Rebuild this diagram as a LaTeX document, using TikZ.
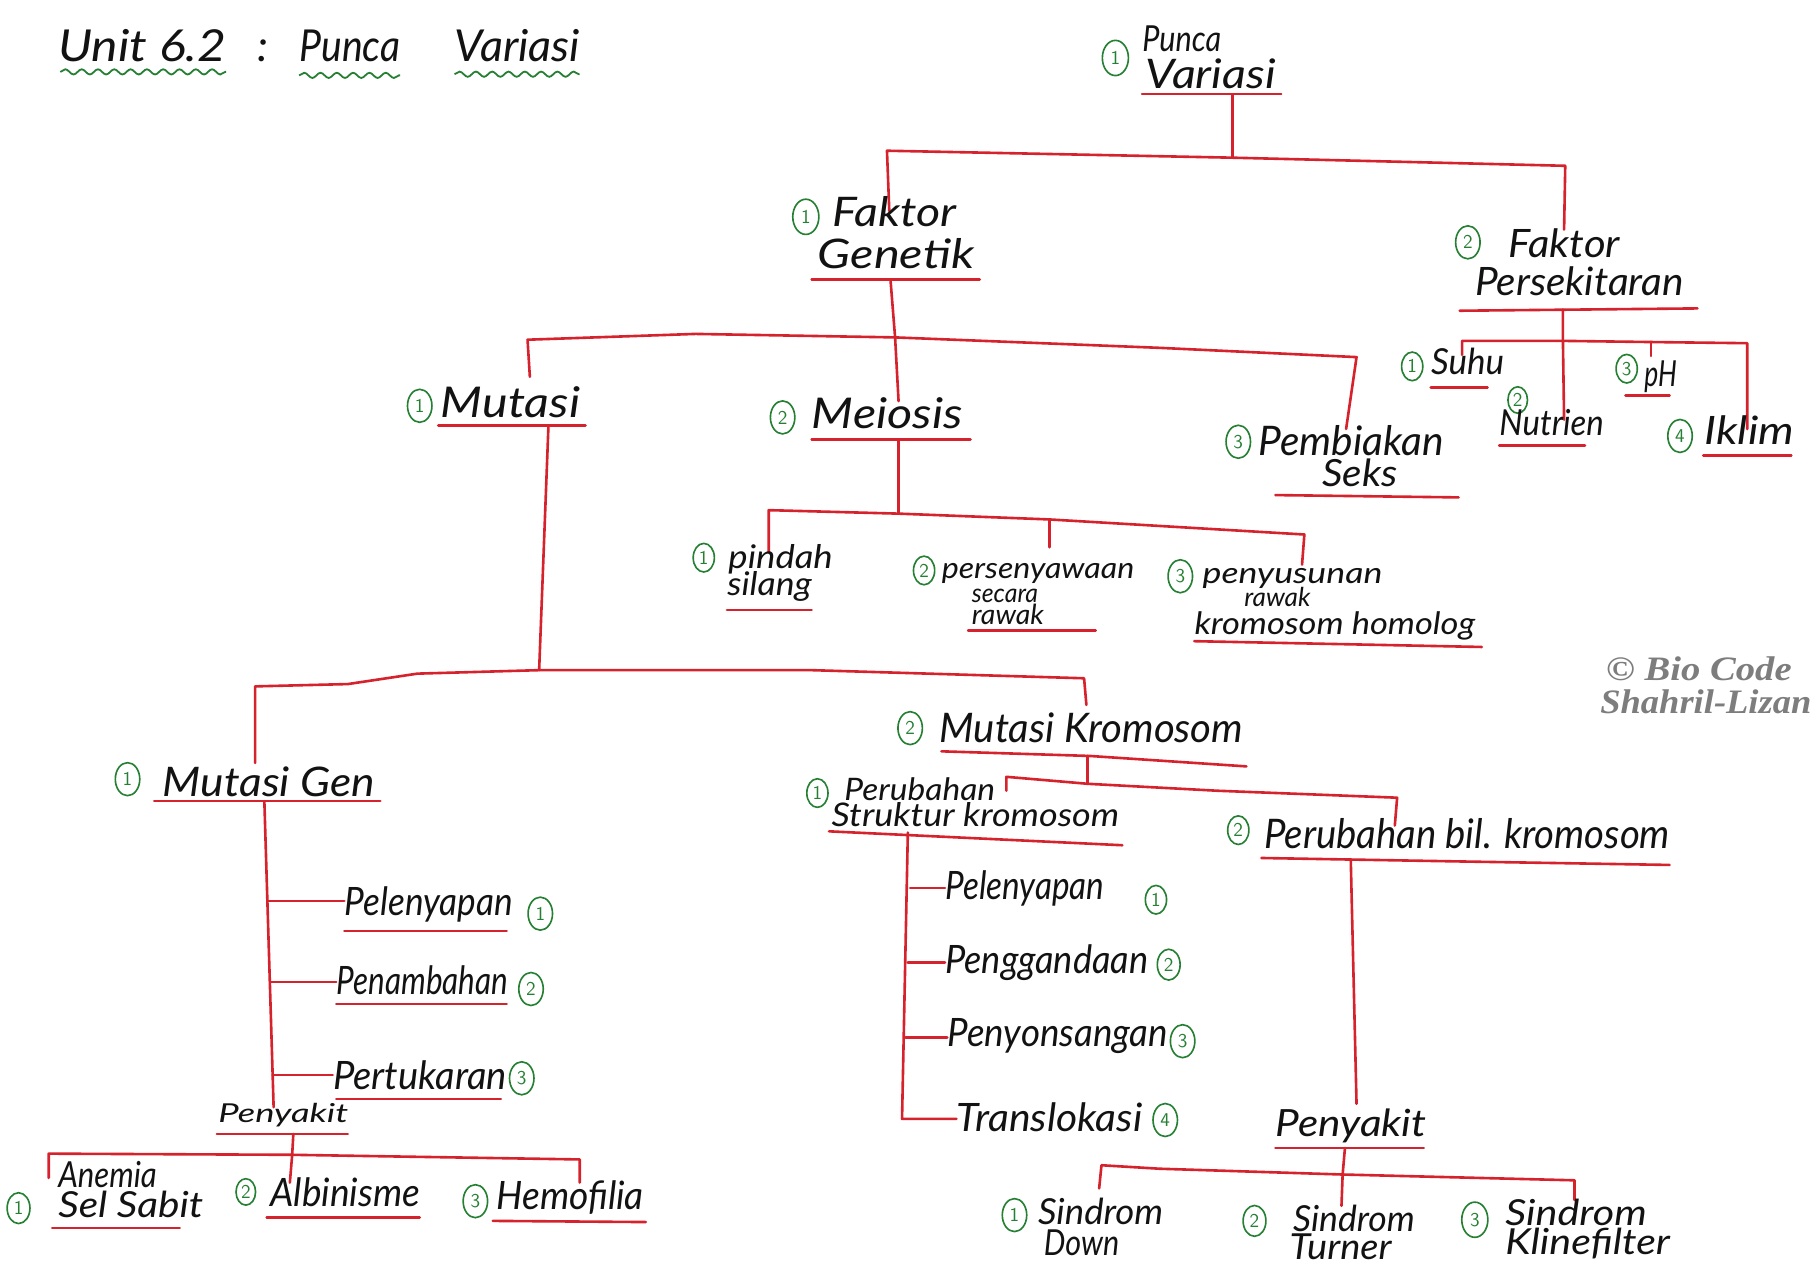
\documentclass[tikz,border=0pt]{standalone}
\usepackage{fontspec}
\usepackage{graphicx}
\setmainfont{Lato}
\newfontfamily\markfont{Lato}
\newfontfamily\stampfont{Liberation Serif}
\usetikzlibrary{shapes.geometric,decorations.pathmorphing}

\definecolor{pen}{RGB}{214,34,44}
\definecolor{ink}{RGB}{18,18,18}
\definecolor{leaf}{RGB}{38,128,52}
\definecolor{stamp}{RGB}{125,125,125}

% one drawing unit
\newlength\pxu
\setlength\pxu{0.025cm}
% set a word to a given width (in drawing units), keeping its height
\newcommand\fw[2]{\resizebox{#1\pxu}{\height}{#2}}

\tikzset{
  branch/.style={draw=pen, line width=1.6pt, line join=round, line cap=round},
  uline/.style={draw=pen, line width=1.6pt, line cap=round},
  wavy/.style={draw=leaf, line width=1.1pt, decorate,
    decoration={snake, amplitude=1.6pt, segment length=10pt}},
  word/.style={anchor=base west, inner sep=0pt, text=ink,
    font=\markfont\itshape\fontsize{#1}{#1}\selectfont},
  word/.default=25,
  num/.style={ellipse, draw=leaf, text=leaf, line width=1pt, inner sep=0pt,
    minimum width=#1, minimum height=1.35*#1,
    font=\sffamily\fontsize{12}{12}\selectfont},
  num/.default=15,
  signature/.style={anchor=base west, inner sep=0pt, text=stamp,
    font=\stampfont\itshape\bfseries\fontsize{21}{21}\selectfont},
}

\begin{document}
\begin{tikzpicture}[x=0.025cm, y=-0.025cm]
\useasboundingbox[fill=white] (0,0) rectangle (1568,1091);

% ---------- heading ----------
\node[word=27] (hUnit) at (50,53) {\fw{145}{Unit 6.2}};
\node[word=27] (hColon) at (222,53) {:};
\node[word=27] (hPunca) at (258,53) {\fw{87}{Punca}};
\node[word=27] (hVar) at (392,53) {\fw{108}{Variasi}};
\draw[wavy] (52,62) -- (195,62);
\draw[wavy] (258,65) -- (345,65);
\draw[wavy] (392,64) -- (500,64);

% ---------- root ----------
\node[num=16] (c0) at (962,50) {1};
\node[word=22] (root1) at (985,44) {\fw{68}{Punca}};
\node[word] (root2) at (988,76) {\fw{112}{Variasi}};
\draw[uline] (985,81) -- (1105,81);
\coordinate (rootS) at (1063,82);
\coordinate (j0) at (1063,136);
\coordinate (j0L) at (765,130);
\coordinate (j0R) at (1350,143);
\coordinate (genT) at (767,182);
\coordinate (perT) at (1349,198);
\draw[branch] (rootS) -- (j0);
\draw[branch] (genT) -- (j0L) -- (j0) -- (j0R) -- (perT);

% ---------- Faktor Genetik ----------
\node[num=16] (c1) at (695,187) {1};
\node[word] (gen1) at (718,195) {\fw{107}{Faktor}};
\node[word] (gen2) at (705,232) {\fw{135}{Genetik}};
\draw[uline] (700,241) -- (845,241);
\coordinate (genS) at (768,241);
\coordinate (j1) at (772,291);
\coordinate (j1L) at (455,293);
\coordinate (j1R) at (1170,308);
\coordinate (mutT) at (457,325);
\coordinate (meiT) at (775,346);
\coordinate (pemT) at (1161,370);
\draw[branch] (genS) -- (j1) -- (meiT);
\draw[branch] (mutT) -- (j1L) -- (600,288) -- (j1) -- (1000,300) -- (j1R) -- (pemT);

% ---------- Mutasi / Meiosis / Pembiakan ----------
\node[num] (c11) at (362,350) {1};
\node[word=26] (mut) at (380,360) {\fw{120}{Mutasi}};
\draw[uline] (378,367) -- (505,367);

\node[num] (c12) at (675,360) {2};
\node[word=26] (mei) at (700,370) {\fw{130}{Meiosis}};
\draw[uline] (700,379) -- (837,379);

\node[num] (c13) at (1068,381) {3};
\node[word] (pem1) at (1085,393) {\fw{160}{Pembiakan}};
\node[word=23] (pem2) at (1140,420) {\fw{65}{Seks}};
\draw[uline] (1100,427) -- (1258,429);

% ---------- Faktor Persekitaran ----------
\node[num=15] (c2) at (1266,209) {2};
\node[word=24] (per1) at (1301,222) {\fw{96}{Faktor}};
\node[word=24] (per2) at (1272,255) {\fw{180}{Persekitaran}};
\draw[uline] (1259,268) -- (1464,266);
\coordinate (perS) at (1348,267);
\coordinate (j2) at (1348,294);
\coordinate (j2L) at (1261,294);
\coordinate (j2R) at (1507,296);
\coordinate (j2pH) at (1424,295);
\coordinate (suhT) at (1261,306);
\coordinate (nutT) at (1349,362);
\coordinate (pHT) at (1424,307);
\coordinate (ikT) at (1507,370);
\draw[branch] (perS) -- (j2) -- (nutT);
\draw[branch] (suhT) -- (j2L) -- (j2) -- (j2pH) -- (j2R) -- (ikT);
\draw[branch] (j2pH) -- (pHT);

\node[num=13] (c21) at (1218,316) {1};
\node[word=22] (suhu) at (1234,323) {\fw{63}{Suhu}};
\draw[uline] (1234,334) -- (1283,334);
\node[num=12] (c22) at (1309,345) {2};
\node[word=22] (nut) at (1293,376) {\fw{90}{Nutrien}};
\draw[uline] (1293,384) -- (1367,384);
\node[num=13] (c23) at (1403,318) {3};
\node[word=22] (ph) at (1418,333) {\fw{28}{pH}};
\draw[uline] (1402,341) -- (1440,341);
\node[num=15] (c24) at (1449,376) {4};
\node[word=24] (ikl) at (1470,383) {\fw{77}{Iklim}};
\draw[uline] (1469,393) -- (1545,393);

% ---------- Meiosis branches ----------
\coordinate (meiS) at (775,380);
\coordinate (j3) at (775,443);
\coordinate (j3L) at (663,440);
\coordinate (j3M) at (905,448);
\coordinate (j3R) at (1125,461);
\coordinate (pinT) at (663,476);
\coordinate (senT) at (905,472);
\coordinate (susT) at (1123,487);
\draw[branch] (meiS) -- (j3);
\draw[branch] (pinT) -- (j3L) -- (j3) -- (j3M) -- (j3R) -- (susT);
\draw[branch] (j3M) -- (senT);

\node[num=13] (c31) at (607,481) {1};
\node[word=20] (pin1) at (628,490) {\fw{90}{pindah}};
\node[word=20] (pin2) at (627,514) {\fw{73}{silang}};
\draw[uline] (627,526) -- (700,526);

\node[num=13] (c32) at (797,492) {2};
\node[word=18] (sen1) at (812,499) {\fw{166}{persenyawaan}};
\node[word=16] (sen2) at (838,520) {\fw{57}{secara}};
\node[word=17] (sen3) at (838,539) {\fw{62}{rawak}};
\draw[uline] (835,544) -- (945,544);

\node[num=15] (c33) at (1018,497) {3};
\node[word=18] (sus1) at (1037,503) {\fw{155}{penyusunan}};
\node[word=16] (sus2) at (1073,523) {\fw{57}{rawak}};
\node[word=19] (sus3) at (1030,547) {\fw{242}{kromosom homolog}};
\draw[uline] (1030,553) -- (1278,558);

% ---------- Mutasi branches ----------
\coordinate (mutS) at (473,368);
\coordinate (j4) at (465,578);
\coordinate (j4L) at (220,592);
\coordinate (j4R) at (935,585);
\coordinate (genGT) at (220,658);
\coordinate (kroT) at (937,608);
\draw[branch] (mutS) -- (j4);
\draw[branch] (genGT) -- (j4L) -- (300,590) -- (360,581) -- (j4) -- (700,578) -- (j4R) -- (kroT);

% Mutasi Gen
\node[num] (c41) at (110,672) {1};
\node[word=25] (mgen) at (140,687) {\fw{183}{Mutasi Gen}};
\draw[uline] (133,691) -- (328,691);
\coordinate (mgS) at (228,691);
\coordinate (mgE) at (236,955);
\draw[branch] (mgS) -- (mgE);
\coordinate (b41) at (231,777);
\coordinate (b42) at (233,847);
\coordinate (b43) at (235,927);
\node[word=24] (pel1) at (297,790) {\fw{145}{Pelenyapan}};
\node[num] (c411) at (466,788) {1};
\draw[uline] (297,803) -- (437,803);
\node[word=24] (pen1) at (290,858) {\fw{148}{Penambahan}};
\node[num] (c412) at (458,853) {2};
\draw[uline] (290,866) -- (437,866);
\node[word=24] (per3) at (287,940) {\fw{150}{Pertukaran}};
\node[num] (c413) at (450,930) {3};
\draw[uline] (290,948) -- (432,948);
\draw[branch] (b41) -- (pel1.west |- b41);
\draw[branch] (b42) -- (pen1.west |- b42);
\draw[branch] (b43) -- (per3.west |- b43);

\node[word=16] (pyk1) at (188,968) {\fw{112}{Penyakit}};
\draw[uline] (187,978) -- (300,978);
\coordinate (pyS) at (253,978);
\coordinate (j5) at (252,996);
\coordinate (j5L) at (42,995);
\coordinate (j5R) at (500,1000);
\coordinate (aneT) at (42,1016);
\coordinate (albT) at (250,1020);
\coordinate (hemT) at (500,1020);
\draw[branch] (pyS) -- (j5) -- (albT);
\draw[branch] (aneT) -- (j5L) -- (j5) -- (j5R) -- (hemT);

\node[num=14] (c51) at (16,1042) {1};
\node[word=22] (ane1) at (50,1024) {\fw{85}{Anemia}};
\node[word=22] (ane2) at (50,1050) {\fw{125}{Sel Sabit}};
\draw[uline] (45,1059) -- (155,1059);
\node[num=12] (c52) at (212,1028) {2};
\node[word=24] (alb) at (233,1041) {\fw{129}{Albinisme}};
\draw[uline] (230,1050) -- (362,1050);
\node[num] (c53) at (410,1036) {3};
\node[word=24] (hem) at (428,1043) {\fw{127}{Hemofilia}};
\draw[uline] (425,1053) -- (557,1054);

% Mutasi Kromosom
\node[num] (c42) at (785,628) {2};
\node[word=25] (mkro) at (810,640) {\fw{262}{Mutasi Kromosom}};
\draw[uline] (812,648) -- (940,652) -- (1075,661);
\coordinate (mkS) at (938,652);
\coordinate (j6) at (938,676);
\coordinate (j6L) at (868,670);
\coordinate (j6R) at (1205,688);
\coordinate (strT) at (868,682);
\coordinate (bilT) at (1203,712);
\draw[branch] (mkS) -- (j6);
\draw[branch] (strT) -- (j6L) -- (j6) -- (1050,682) -- (j6R) -- (bilT);

\node[num=13] (c61) at (705,684) {1};
\node[word=19] (str1) at (728,690) {\fw{130}{Perubahan}};
\node[word=20] (str2) at (717,713) {\fw{248}{Struktur kromosom}};
\draw[uline] (715,717) -- (968,729);
\coordinate (stS) at (783,718);
\coordinate (stE) at (778,965);
\coordinate (b61) at (785,766);
\coordinate (b62) at (783,830);
\coordinate (b63) at (781,895);
\node[word=24] (sp1) at (815,776) {\fw{137}{Pelenyapan}};
\node[num=13] (c611) at (997,776) {1};
\node[word=24] (sp2) at (815,840) {\fw{175}{Penggandaan}};
\node[num=14] (c612) at (1008,832) {2};
\node[word=24] (sp3) at (817,903) {\fw{190}{Penyonsangan}};
\node[num=15] (c613) at (1020,898) {3};
\node[word=24] (sp4) at (825,976) {\fw{160}{Translokasi}};
\node[num=15] (c614) at (1005,966) {4};
\draw[branch] (stS) -- (stE) -- (sp4.west |- stE);
\draw[branch] (b61) -- (sp1.west |- b61);
\draw[branch] (b62) -- (sp2.west |- b62);
\draw[branch] (b63) -- (sp3.west |- b63);

\node[num=13] (c62) at (1068,716) {2};
\node[word=25] (bil) at (1090,732) {\fw{350}{Perubahan bil. kromosom}};
\draw[uline] (1088,740) -- (1260,743) -- (1440,746);
\coordinate (biS) at (1165,741);
\coordinate (pyT) at (1170,952);
\draw[branch] (biS) -- (pyT);

\node[word=23] (pyk2) at (1100,980) {\fw{130}{Penyakit}};
\draw[uline] (1100,990) -- (1228,990);
\coordinate (py2S) at (1160,990);
\coordinate (j7) at (1158,1013);
\coordinate (j7L) at (950,1005);
\coordinate (j7R) at (1358,1018);
\coordinate (dowT) at (948,1025);
\coordinate (turT) at (1157,1040);
\coordinate (klnT) at (1358,1035);
\draw[branch] (py2S) -- (j7) -- (turT);
\draw[branch] (dowT) -- (j7L) -- (1000,1008) -- (j7) -- (j7R) -- (klnT);

\node[num] (c71) at (875,1048) {1};
\node[word=22] (dn1) at (895,1056) {\fw{108}{Sindrom}};
\node[word=22] (dn2) at (900,1083) {\fw{65}{Down}};
\node[num=14] (c72) at (1082,1053) {2};
\node[word=22] (tn1) at (1115,1062) {\fw{105}{Sindrom}};
\node[word=22] (tn2) at (1112,1086) {\fw{88}{Turner}};
\node[num=16] (c73) at (1272,1052) {3};
\node[word=22] (kf1) at (1298,1057) {\fw{122}{Sindrom}};
\node[word=22] (kf2) at (1298,1082) {\fw{142}{Klinefilter}};

% ---------- signature ----------
\node[signature] (sig1) at (1385,587) {\fw{160}{\copyright\ Bio Code}};
\node[signature] (sig2) at (1380,615) {\fw{182}{Shahril-Lizan}};
\end{tikzpicture}
\end{document}
